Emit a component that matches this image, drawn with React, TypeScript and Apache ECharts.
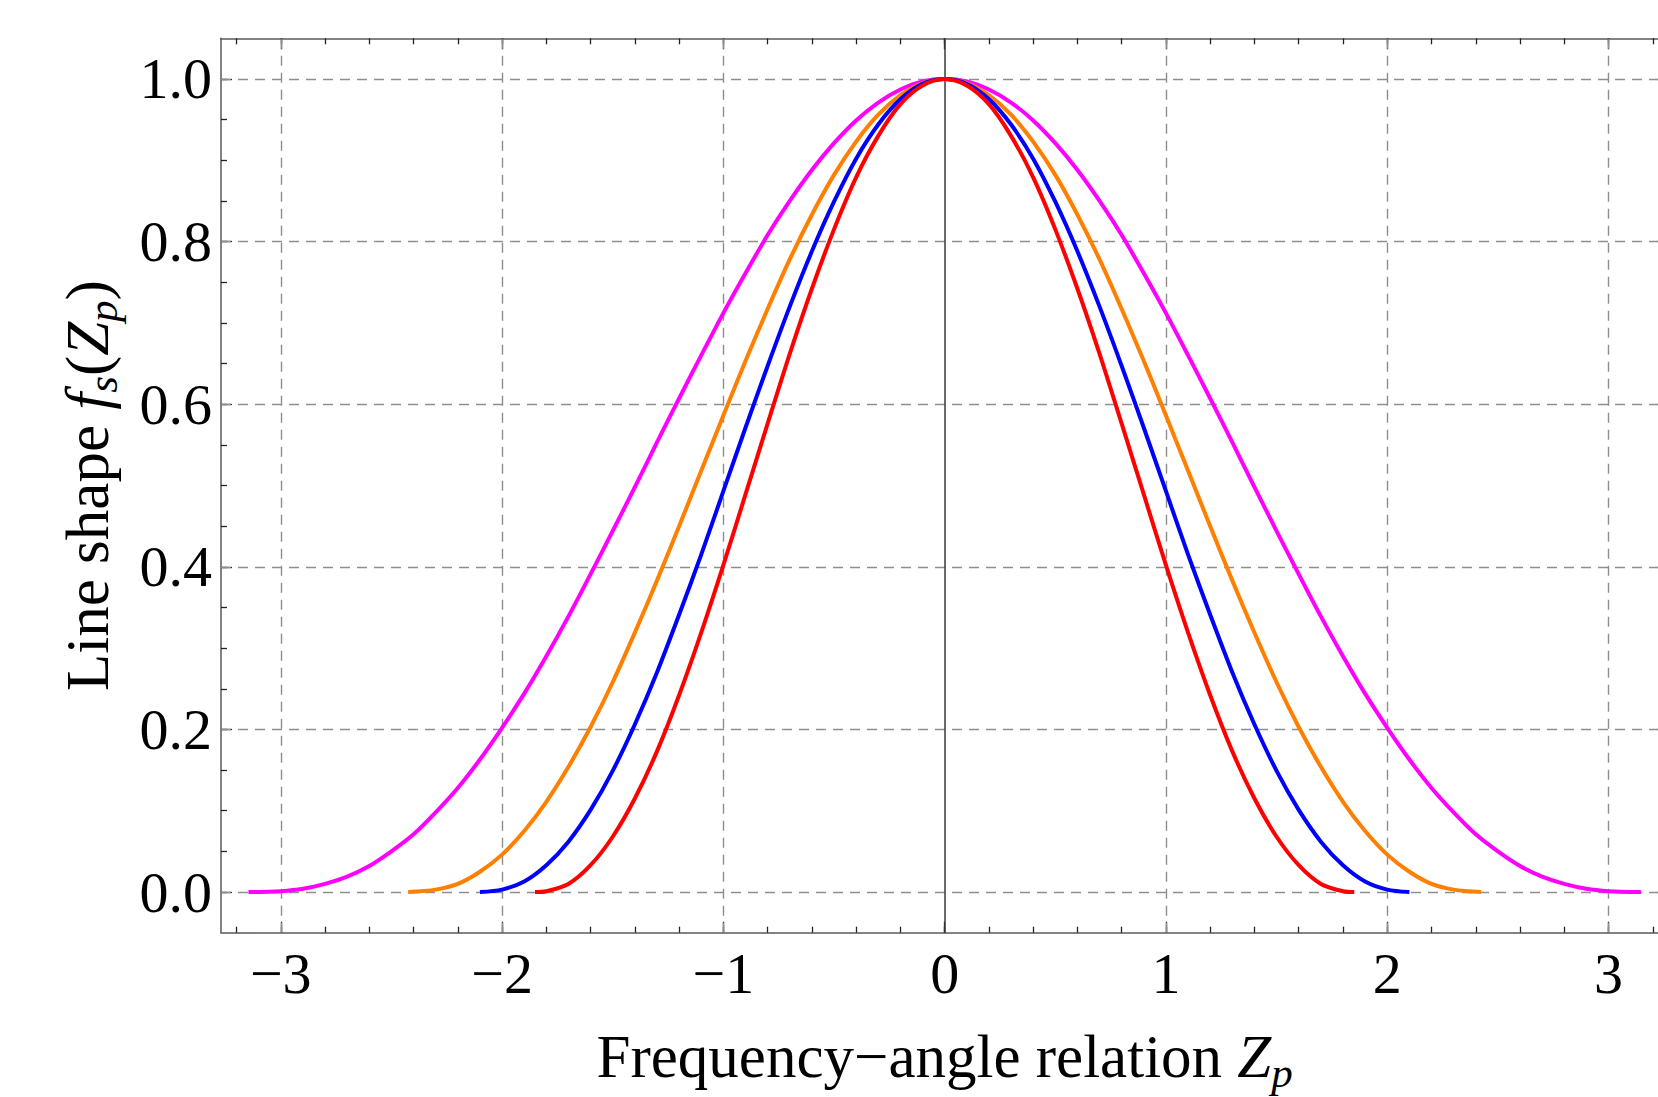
import React, { useEffect, useRef } from "react";
import * as echarts from "echarts";

// ---- data (right half, Z >= 0; curves are symmetric in Z) ----
const zRed = [0, 0.1, 0.2, 0.3, 0.4, 0.5, 0.6, 0.7, 0.8, 0.9, 1.0, 1.1, 1.2, 1.3, 1.4, 1.5, 1.6, 1.7, 1.8, 1.851];
const fRed = [1, 0.992, 0.969, 0.93, 0.879, 0.815, 0.742, 0.662, 0.576, 0.489, 0.402, 0.319, 0.242, 0.173, 0.115, 0.068, 0.033, 0.01, 0.001, 0];

const zBlue = [0, 0.1, 0.2, 0.3, 0.4, 0.5, 0.6, 0.7, 0.8, 0.9, 1.0, 1.1, 1.2, 1.3, 1.4, 1.5, 1.6, 1.7, 1.8, 1.9, 2.0, 2.1];
const fBlue = [1, 0.994, 0.975, 0.944, 0.902, 0.849, 0.788, 0.72, 0.647, 0.571, 0.493, 0.415, 0.341, 0.27, 0.206, 0.149, 0.101, 0.062, 0.033, 0.013, 0.003, 0];

const zOrange = [0, 0.1, 0.2, 0.3, 0.4, 0.5, 0.6, 0.7, 0.8, 0.9, 1.0, 1.1, 1.2, 1.3, 1.4, 1.5, 1.6, 1.7, 1.8, 1.9, 2.0, 2.1, 2.2, 2.3, 2.424];
const fOrange = [1, 0.995, 0.98, 0.956, 0.923, 0.882, 0.833, 0.778, 0.717, 0.653, 0.586, 0.518, 0.45, 0.383, 0.319, 0.258, 0.203, 0.154, 0.111, 0.075, 0.046, 0.025, 0.01, 0.003, 0];

const zMagenta = [0, 0.1, 0.2, 0.3, 0.4, 0.5, 0.6, 0.7, 0.8, 0.9, 1.0, 1.1, 1.2, 1.3, 1.4, 1.5, 1.6, 1.7, 1.8, 1.9, 2.0, 2.1, 2.2, 2.3, 2.4, 2.5, 2.6, 2.7, 2.8, 2.9, 3.0, 3.1, 3.146];
const fMagenta = [1, 0.997, 0.987, 0.971, 0.949, 0.921, 0.888, 0.85, 0.808, 0.761, 0.712, 0.66, 0.607, 0.553, 0.498, 0.444, 0.391, 0.339, 0.29, 0.244, 0.202, 0.163, 0.128, 0.098, 0.071, 0.05, 0.032, 0.019, 0.01, 0.004, 0.001, 0, 0];

// ---- ticks ----
const xMajor = [-3, -2, -1, 0, 1, 2, 3];
const xMinor = [-3.2, -3.0, -2.8, -2.6, -2.4, -2.2, -2.0, -1.8, -1.6, -1.4, -1.2, -1.0, -0.8, -0.6, -0.4, -0.2, 0, 0.2, 0.4, 0.6, 0.8, 1.0, 1.2, 1.4, 1.6, 1.8, 2.0, 2.2, 2.4, 2.6, 2.8, 3.0, 3.2];
const yMajor = [0, 0.2, 0.4, 0.6, 0.8, 1.0];
const yMinor = [0, 0.05, 0.1, 0.15, 0.2, 0.25, 0.3, 0.35, 0.4, 0.45, 0.5, 0.55, 0.6, 0.65, 0.7, 0.75, 0.8, 0.85, 0.9, 0.95, 1.0];

const X_MIN = -3.27;
const X_MAX = 3.27;
const Y_MIN = -0.05;
const Y_MAX = 1.05;

const FONT = "Liberation Serif";
const AXIS_COLOR = "#5a5a5a";
const TICK_COLOR = "#222";

function mirror(zs: number[], fs: number[]): number[][] {
  const left = zs.slice(1).map((z, i) => [-z, fs[i + 1]]).reverse();
  const right = zs.map((z, i) => [z, fs[i]]);
  return [...left, ...right];
}

function axis(dim: "x" | "y", position: string, ticks: number[], len: number, withLine: boolean, withLabel: boolean, extra: any = {}) {
  const isX = dim === "x";
  return {
    type: "value",
    position,
    min: isX ? X_MIN : Y_MIN,
    max: isX ? X_MAX : Y_MAX,
    axisLine: { show: withLine, onZero: false, lineStyle: { color: AXIS_COLOR, width: 1.5 } },
    axisTick: { show: true, inside: true, length: len, customValues: ticks, lineStyle: { color: TICK_COLOR, width: 1.3 } },
    axisLabel: withLabel
      ? {
          show: true,
          customValues: ticks,
          fontFamily: FONT,
          fontSize: 58,
          color: "#000",
          margin: isX ? 12 : 9,
          formatter: isX
            ? (v: number) => (v < 0 ? "\u2212" + Math.abs(v) : String(v))
            : (v: number) => v.toFixed(1),
        }
      : { show: false },
    splitLine: { show: false },
    ...extra,
  };
}

const nameRich = {
  n: { fontFamily: FONT, fontSize: 61, lineHeight: 74, color: "#000" },
  i: { fontFamily: FONT, fontSize: 61, lineHeight: 74, fontStyle: "italic", color: "#000" },
  s: { fontFamily: FONT, fontSize: 43, lineHeight: 36, fontStyle: "italic", verticalAlign: "bottom", color: "#000" },
};

export default function App() {
  const ref = useRef<HTMLDivElement>(null);
  useEffect(() => {
    if (!ref.current) return;
    const chart = echarts.init(ref.current, null, { renderer: "svg" });
    const curve = (name: string, color: string, zs: number[], fs: number[]) => ({
      name,
      type: "line",
      data: mirror(zs, fs),
      showSymbol: false,
      smooth: 0.3,
      z: 3,
      lineStyle: { color, width: 4, cap: "butt", join: "round" },
      itemStyle: { color },
    });
    chart.setOption({
      animation: false,
      backgroundColor: "#fff",
      grid: { left: 221, top: 38.3, width: 1447.3, height: 894.4, containLabel: false, outerBoundsMode: "none" },
      xAxis: [
        axis("x", "bottom", xMajor, 11, true, true, {
          name: "{n|Frequency\u2212angle relation }{i|Z}{s|p}",
          nameLocation: "middle",
          nameGap: 87,
          nameTextStyle: { fontFamily: FONT, fontSize: 61, rich: nameRich },
        }),
        axis("x", "bottom", xMinor, 6, false, false),
        axis("x", "top", xMajor, 11, true, false),
        axis("x", "top", xMinor, 6, false, false),
      ],
      yAxis: [
        axis("y", "left", yMajor, 11, true, true, {
          name: "{n|Line shape }{i|f}{s|s}{n|(}{i|Z}{s|p}{n|)}",
          nameLocation: "middle",
          nameGap: 97,
          nameTextStyle: { fontFamily: FONT, fontSize: 61, rich: nameRich },
        }),
        axis("y", "left", yMinor, 6, false, false),
        axis("y", "right", yMajor, 11, true, false),
        axis("y", "right", yMinor, 6, false, false),
      ],
      series: [
        {
          type: "line",
          data: [],
          z: 1,
          silent: true,
          markLine: {
            z: 1,
            silent: true,
            symbol: ["none", "none"],
            label: { show: false },
            lineStyle: { type: [10, 7], color: "#8e8e8e", width: 1.4 },
            data: [
              ...xMajor.filter((v) => v !== 0).map((v) => ({ xAxis: v })),
              ...yMajor.map((v) => ({ yAxis: v })),
              { xAxis: 0, lineStyle: { type: "solid", color: "#3a3a3a", width: 1.5 } },
            ],
          },
        },
        curve("magenta", "#ff00ff", zMagenta, fMagenta),
        curve("orange", "#ff7f00", zOrange, fOrange),
        curve("blue", "#0000ff", zBlue, fBlue),
        curve("red", "#ff0000", zRed, fRed),
      ],
    });
    return () => chart.dispose();
  }, []);
  return (
    <div
      ref={ref}
      style={{ position: "fixed", left: 0, top: 0, width: 1680, height: 1097, background: "#fff" }}
    />
  );
}
